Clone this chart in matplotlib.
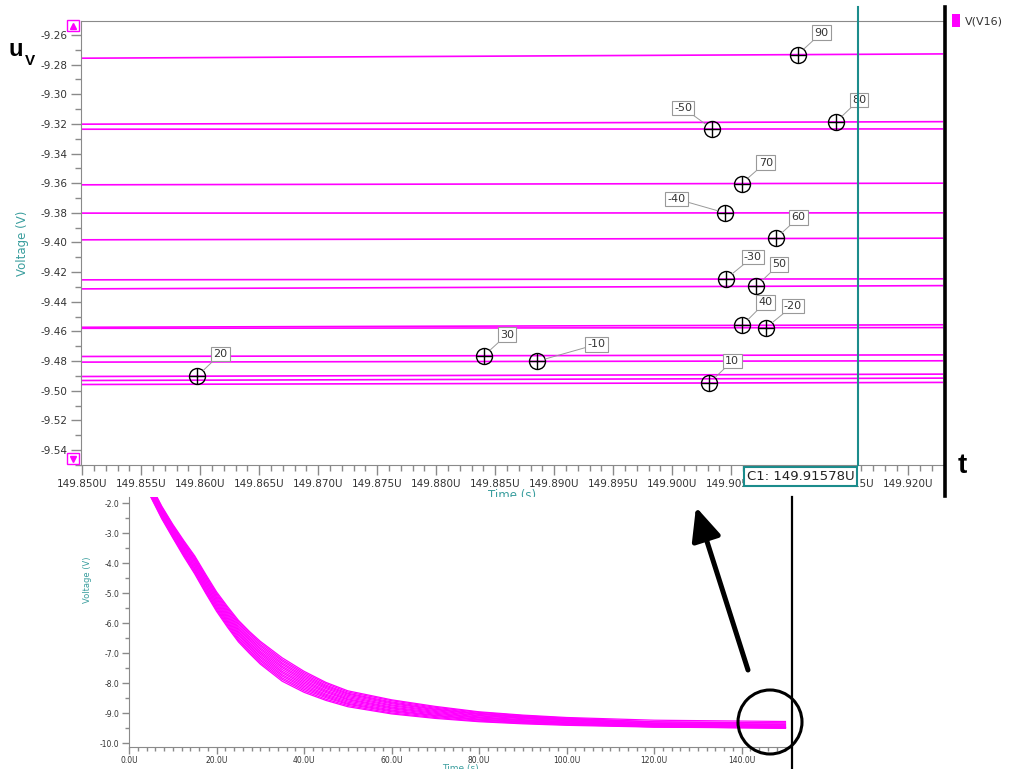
import numpy as np
import matplotlib.pyplot as plt
from matplotlib.patches import Rectangle, Ellipse, FancyArrowPatch
from matplotlib.lines import Line2D
from matplotlib.ticker import MultipleLocator, FuncFormatter

plt.rcParams['font.family'] = ['DejaVu Sans']
plt.rcParams['axes.unicode_minus'] = False

W, H = 1015, 769

# temperature sweep, one trace per temperature
temps = [-50, -40, -30, -20, -10, 0, 10, 20, 30, 40, 50, 60, 70, 80, 90]

# zoomed window (us) and trace voltage at both ends of it
win_t = [149.8499, 149.9229]
v_left = [-9.3236, -9.3802, -9.4252, -9.4579, -9.4807, -9.4931, -9.4958, -9.4904,
          -9.4769, -9.4572, -9.4313, -9.3982, -9.3611, -9.3202, -9.2757]
v_right = [-9.3234, -9.3800, -9.4245, -9.4574, -9.4798, -9.4915, -9.4944, -9.4888,
           -9.4758, -9.4555, -9.4291, -9.3971, -9.3600, -9.3185, -9.2728]

# marker time (us) on each trace, nan = no marker
mark_t = [149.90339, 149.90449, 149.90453, 149.90794, 149.88851, np.nan, 149.90314,
          149.85975, 149.88404, 149.90593, 149.90710, 149.90876, 149.90588,
          149.91387, 149.91063]

cursor_t = 149.91578

# full transient, traces ordered from lowest to highest settled value
sweep_temps = [10, 0, 20, -10, 30, -20, 40, 50, -30, 60, -40, 70, -50, 80, 90]
sweep_t = [0, 5, 7.5, 10, 12.5, 15, 17.5, 20, 22.5, 25, 27.5, 30, 35, 40, 45, 50,
           60, 70, 80, 90, 100, 120, 150]
sweep_v = [
    [0.90, 0.92, 0.94, 0.96, 0.99, 1.01, 1.03, 1.05, 1.07, 1.09, 1.11, 1.14, 1.16, 1.18, 1.20],
    [-1.80, -1.77, -1.74, -1.71, -1.69, -1.66, -1.63, -1.60, -1.57, -1.54, -1.51, -1.49, -1.46, -1.43, -1.40],
    [-2.52, -2.49, -2.46, -2.43, -2.40, -2.37, -2.34, -2.31, -2.28, -2.25, -2.22, -2.19, -2.16, -2.13, -2.10],
    [-3.15, -3.12, -3.09, -3.05, -3.02, -2.99, -2.96, -2.93, -2.89, -2.86, -2.83, -2.80, -2.76, -2.73, -2.70],
    [-3.77, -3.73, -3.69, -3.66, -3.62, -3.58, -3.54, -3.51, -3.47, -3.43, -3.39, -3.35, -3.32, -3.28, -3.24],
    [-4.35, -4.31, -4.26, -4.22, -4.18, -4.14, -4.09, -4.05, -4.01, -3.96, -3.92, -3.88, -3.84, -3.79, -3.75],
    [-4.99, -4.95, -4.90, -4.86, -4.81, -4.77, -4.72, -4.68, -4.63, -4.59, -4.54, -4.50, -4.45, -4.41, -4.36],
    [-5.60, -5.55, -5.51, -5.46, -5.41, -5.37, -5.32, -5.28, -5.23, -5.18, -5.14, -5.09, -5.04, -5.00, -4.95],
    [-6.13, -6.08, -6.03, -5.98, -5.94, -5.89, -5.84, -5.79, -5.74, -5.69, -5.64, -5.59, -5.54, -5.49, -5.44],
    [-6.62, -6.57, -6.52, -6.47, -6.41, -6.36, -6.31, -6.26, -6.21, -6.16, -6.11, -6.05, -6.00, -5.95, -5.90],
    [-7.00, -6.95, -6.90, -6.84, -6.79, -6.74, -6.69, -6.64, -6.58, -6.53, -6.48, -6.43, -6.37, -6.32, -6.27],
    [-7.36, -7.31, -7.25, -7.20, -7.14, -7.09, -7.03, -6.98, -6.93, -6.87, -6.82, -6.76, -6.71, -6.65, -6.60],
    [-7.93, -7.87, -7.82, -7.76, -7.71, -7.65, -7.60, -7.54, -7.48, -7.43, -7.37, -7.32, -7.26, -7.21, -7.15],
    [-8.30, -8.25, -8.20, -8.15, -8.10, -8.05, -8.00, -7.95, -7.90, -7.85, -7.80, -7.75, -7.70, -7.65, -7.60],
    [-8.57, -8.53, -8.48, -8.44, -8.40, -8.36, -8.31, -8.27, -8.23, -8.18, -8.14, -8.10, -8.06, -8.01, -7.97],
    [-8.78, -8.74, -8.70, -8.67, -8.63, -8.59, -8.55, -8.52, -8.48, -8.44, -8.40, -8.36, -8.33, -8.29, -8.25],
    [-9.02, -8.99, -8.95, -8.92, -8.89, -8.85, -8.82, -8.79, -8.75, -8.72, -8.68, -8.65, -8.62, -8.58, -8.55],
    [-9.17, -9.14, -9.11, -9.08, -9.06, -9.03, -9.00, -8.97, -8.94, -8.91, -8.88, -8.86, -8.83, -8.80, -8.77],
    [-9.28, -9.26, -9.23, -9.21, -9.19, -9.16, -9.14, -9.12, -9.09, -9.07, -9.04, -9.02, -9.00, -8.97, -8.95],
    [-9.35, -9.33, -9.31, -9.29, -9.27, -9.25, -9.23, -9.21, -9.18, -9.16, -9.14, -9.12, -9.10, -9.08, -9.06],
    [-9.40, -9.38, -9.36, -9.34, -9.33, -9.31, -9.29, -9.27, -9.25, -9.23, -9.21, -9.20, -9.18, -9.16, -9.14],
    [-9.46, -9.45, -9.45, -9.44, -9.43, -9.42, -9.41, -9.39, -9.38, -9.36, -9.34, -9.32, -9.29, -9.28, -9.23],
]
settled = dict(zip(temps, v_right))
sweep_v.append([settled[T] for T in sweep_temps])

# label box offsets from the marker, in pixels (right, up)
label_off = {-50: (-29, 21), -40: (-49, 14), -30: (27, 22), -20: (27, 22), -10: (60, 17),
             10: (23, 22), 20: (23, 22), 30: (23, 21), 40: (23, 23), 50: (23, 22),
             60: (23, 21), 70: (24, 21), 80: (23, 22), 90: (24, 22)}

MAG = '#ff00ff'
TEAL = '#1b8c8c'
LTEAL = '#3a9e9e'
GRAY = '#8a8a8a'
TXT = '#333333'


def fx(x):
    return x / W


def fy(y):
    return 1 - y / H


fig = plt.figure(figsize=(W / 100, H / 100), dpi=100)
fig.patch.set_facecolor('white')

# ---- zoomed view ----
ax = fig.add_axes([fx(81), fy(465), (943 - 81) / W, (465 - 21) / H])
for k, T in enumerate(temps):
    ax.plot(win_t, [v_left[k], v_right[k]], color=MAG, lw=1.2, zorder=2)

for k, T in enumerate(temps):
    if np.isnan(mark_t[k]):
        continue
    mv = np.interp(mark_t[k], win_t, [v_left[k], v_right[k]])
    ax.plot(mark_t[k], mv, marker='o', ms=11.5, mfc='none', mec='black', mew=1.0, zorder=4)
    ax.plot(mark_t[k], mv, marker='+', ms=11.5, mec='black', mew=1.0, zorder=4)
    dx, dy = label_off[T]
    ax.annotate(str(T), xy=(mark_t[k], mv), xytext=(dx, dy), textcoords='offset pixels',
                ha='center', va='center', fontsize=8, color=TXT,
                bbox=dict(boxstyle='square,pad=0.2', fc='white', ec='#999999', lw=0.8),
                arrowprops=dict(arrowstyle='-', color='#999999', lw=0.7, shrinkA=0, shrinkB=6),
                zorder=5)

ax.set_xlim(149.8499, 149.92294)
ax.set_ylim(-9.5501, -9.2506)
ax.xaxis.set_major_locator(MultipleLocator(0.005))
ax.xaxis.set_minor_locator(MultipleLocator(0.001))
ax.yaxis.set_major_locator(MultipleLocator(0.02))
ax.yaxis.set_minor_locator(MultipleLocator(0.01))
ax.xaxis.set_major_formatter(FuncFormatter(lambda v, p: f'{v:.3f}U'))
ax.yaxis.set_major_formatter(FuncFormatter(lambda v, p: f'{v:.2f}'))
ax.tick_params(which='major', direction='out', length=7, width=1, color=GRAY,
               labelsize=7.5, labelcolor=TXT, pad=3)
ax.tick_params(which='minor', direction='out', length=4, width=1, color=GRAY)
for s in ax.spines.values():
    s.set_color(GRAY)
ax.spines['right'].set_visible(False)

ax.set_ylabel('Voltage (V)', color=LTEAL, fontsize=8.5)
ax.yaxis.label.set_va('center')
ax.yaxis.set_label_coords(-0.0684, 0.5)
ax.set_xlabel('Time (s)', color=LTEAL, fontsize=8.5)
ax.xaxis.label.set_va('center')
ax.xaxis.set_label_coords(0.5, -0.0698)

ax.axvline(cursor_t, ymin=0, ymax=1 + 14 / 444, color=TEAL, lw=1.5, clip_on=False, zorder=6)
ax.annotate(f'C1: {cursor_t:.5f}U', xy=(cursor_t, 0), xycoords=('data', 'axes fraction'),
            xytext=(-4, -5), textcoords='offset pixels', ha='right', va='top',
            fontsize=9.5, color='#222222', annotation_clip=False, zorder=7,
            bbox=dict(boxstyle='square,pad=0.2', fc='white', ec=TEAL, lw=1.5))

# scroll buttons at the left of the zoomed view
for y0, mk in [(20, '^'), (453, 'v')]:
    fig.add_artist(Rectangle((fx(67), fy(y0 + 11)), 12 / W, 11 / H, transform=fig.transFigure,
                             fc='white', ec=MAG, lw=1.0, zorder=3))
    fig.add_artist(Line2D([fx(73)], [fy(y0 + 5.5)], transform=fig.transFigure, marker=mk,
                          ms=4.5, color=MAG, ls='none', zorder=4))

# legend
fig.add_artist(Rectangle((fx(952), fy(27)), 8 / W, 13 / H, transform=fig.transFigure,
                         fc=MAG, ec='none', zorder=3))
fig.text(fx(965), fy(21), 'V(V16)', fontsize=8, color=TXT, va='center', ha='left')

# ---- full transient below ----
fig.add_artist(Rectangle((0, 0), 1, fy(497), transform=fig.transFigure,
                         fc='white', ec='none', zorder=1))
axb = fig.add_axes([fx(129), fy(746.7), (792 - 129) / W, (746.7 - 497) / H], zorder=2)
axb.patch.set_alpha(0)
sv = np.array(sweep_v)
for j in range(len(sweep_temps)):
    axb.plot(sweep_t, sv[:, j], color=MAG, lw=0.9)
axb.set_xlim(0, 151.5)
axb.set_ylim(-10.113, -1.79)
axb.xaxis.set_major_locator(MultipleLocator(20))
axb.xaxis.set_minor_locator(MultipleLocator(2))
axb.yaxis.set_major_locator(MultipleLocator(1))
axb.yaxis.set_minor_locator(MultipleLocator(0.5))
axb.xaxis.set_major_formatter(FuncFormatter(lambda v, p: f'{v:.1f}U'))
axb.yaxis.set_major_formatter(FuncFormatter(lambda v, p: f'{v:.1f}'))
axb.tick_params(which='major', direction='out', length=5, width=1, color=GRAY,
                labelsize=5.5, labelcolor=TXT, pad=2)
axb.tick_params(which='minor', direction='out', length=3, width=1, color=GRAY)
for s in ['top', 'right']:
    axb.spines[s].set_visible(False)
for s in ['left', 'bottom']:
    axb.spines[s].set_color(GRAY)
axb.set_ylabel('Voltage (V)', color=LTEAL, fontsize=6)
axb.yaxis.label.set_va('center')
axb.yaxis.set_label_coords((88 - 129) / 663, (746.7 - 580) / 249.7)
axb.set_xlabel('Time (s)', color=LTEAL, fontsize=6.5)
axb.xaxis.label.set_va('center')
axb.xaxis.set_label_coords(0.5, (746.7 - 768) / 249.7)

# ---- callouts ----
fig.add_artist(Line2D([fx(944.5)] * 2, [fy(7), fy(496)], transform=fig.transFigure,
                      color='black', lw=2.6, zorder=10))
fig.add_artist(Line2D([fx(792)] * 2, [fy(497), fy(769)], transform=fig.transFigure,
                      color='black', lw=1.6, zorder=10))
fig.add_artist(Ellipse((fx(770), fy(722)), 64 / W, 64 / H, transform=fig.transFigure,
                       fill=False, ec='black', lw=2.2, zorder=10))
fig.add_artist(FancyArrowPatch((fx(748), fy(670)), (fx(696), fy(507)), transform=fig.transFigure,
                               arrowstyle='-|>,head_length=1.0,head_width=0.45',
                               mutation_scale=20, lw=3.6, color='black',
                               shrinkA=0, shrinkB=0, zorder=10))
fig.text(fx(9), fy(56), 'u', fontsize=17, fontweight='bold', family='Liberation Sans',
         va='baseline', ha='left', color='black')
fig.text(fx(25), fy(65), 'V', fontsize=11, fontweight='bold', family='Liberation Sans',
         va='baseline', ha='left', color='black')
fig.text(fx(958), fy(473), 't', fontsize=20, fontweight='bold', family='Liberation Sans',
         va='baseline', ha='left', color='black')

fig.savefig('out.png', dpi=100)
